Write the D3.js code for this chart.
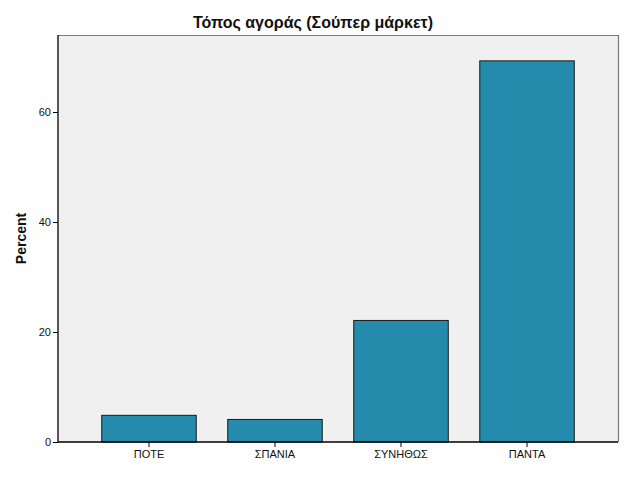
<!DOCTYPE html>
<html>
<head>
<meta charset="utf-8">
<script src="https://cdn.jsdelivr.net/npm/d3@7"></script>
<style>
  body { margin: 0; background: #fff; }
  text { font-family: Arial, "Liberation Sans", sans-serif; }
</style>
</head>
<body>
<div id="chart"></div>
<script>
'use strict';

const categories = ['ΠΟΤΕ', 'ΣΠΑΝΙΑ', 'ΣΥΝΗΘΩΣ', 'ΠΑΝΤΑ'];
const percents   = [4.85, 4.1, 22.1, 69.3];
const yTicks     = [0, 20, 40, 60];
const title      = 'Τόπος αγοράς (Σούπερ μάρκετ)';
const yTitle     = 'Percent';

const width = 626, height = 501;
const plot = { left: 58, right: 618, top: 35, bottom: 442 };

let svg = d3.select('#chart')
    .append('svg')
    .attr('width', width)
    .attr('height', height);

let x = d3.scaleBand()
    .domain(categories)
    .range([plot.left, plot.right])
    .paddingInner(0.25)
    .paddingOuter(0.347);

let y = d3.scaleLinear()
    .domain([0, 74])
    .range([plot.bottom, plot.top]);

// plot background
svg.append('rect')
    .attr('x', plot.left)
    .attr('y', plot.top)
    .attr('width', plot.right - plot.left)
    .attr('height', plot.bottom - plot.top)
    .style('fill', '#f0f0f0');

// top / right frame in grey
svg.append('path')
    .attr('d', `M${plot.left},${plot.top + 0.5}H${plot.right + 0.5}V${plot.bottom}`)
    .style('fill', 'none')
    .style('stroke', '#7a7a7a')
    .style('stroke-width', 1.2);

svg.selectAll('rect.bar')
    .data(percents)
    .enter()
    .append('rect')
    .attr('class', 'bar')
    .attr('x', (d, i) => x(categories[i]))
    .attr('y', d => y(d))
    .attr('width', x.bandwidth())
    .attr('height', d => y(0) - y(d))
    .style('fill', '#248bac')
    .style('stroke', '#1a1a1a')
    .style('stroke-width', 1);

let yAxis = svg.append('g')
    .attr('transform', `translate(${plot.left},0)`)
    .call(d3.axisLeft(y).tickValues(yTicks).tickSize(5).tickPadding(2));

let xAxis = svg.append('g')
    .attr('transform', `translate(0,${plot.bottom})`)
    .call(d3.axisBottom(x).tickSize(5).tickPadding(3).tickSizeOuter(0));

[xAxis, yAxis].forEach(g =>
{
    g.select('.domain').style('stroke', '#000').style('stroke-width', 1.3);
    g.selectAll('.tick line').style('stroke', '#000');
    g.selectAll('text')
        .style('font-family', 'Arial, "Liberation Sans", sans-serif')
        .style('font-size', '11px')
        .style('fill', '#111');
});
yAxis.select('.domain').attr('d', `M0,${plot.top}V${plot.bottom}`);
xAxis.select('.domain').attr('d', `M${plot.left},0H${plot.right}`);

svg.append('text')
    .attr('x', (plot.left + plot.right) / 2 - 25)
    .attr('y', 28)
    .attr('text-anchor', 'middle')
    .style('font-size', '16px')
    .style('font-weight', 'bold')
    .style('fill', '#111')
    .text(title);

svg.append('text')
    .attr('transform', `translate(26,${(plot.top + plot.bottom) / 2}) rotate(-90)`)
    .attr('text-anchor', 'middle')
    .style('font-size', '14px')
    .style('font-weight', 'bold')
    .style('fill', '#111')
    .text(yTitle);
</script>
</body>
</html>
